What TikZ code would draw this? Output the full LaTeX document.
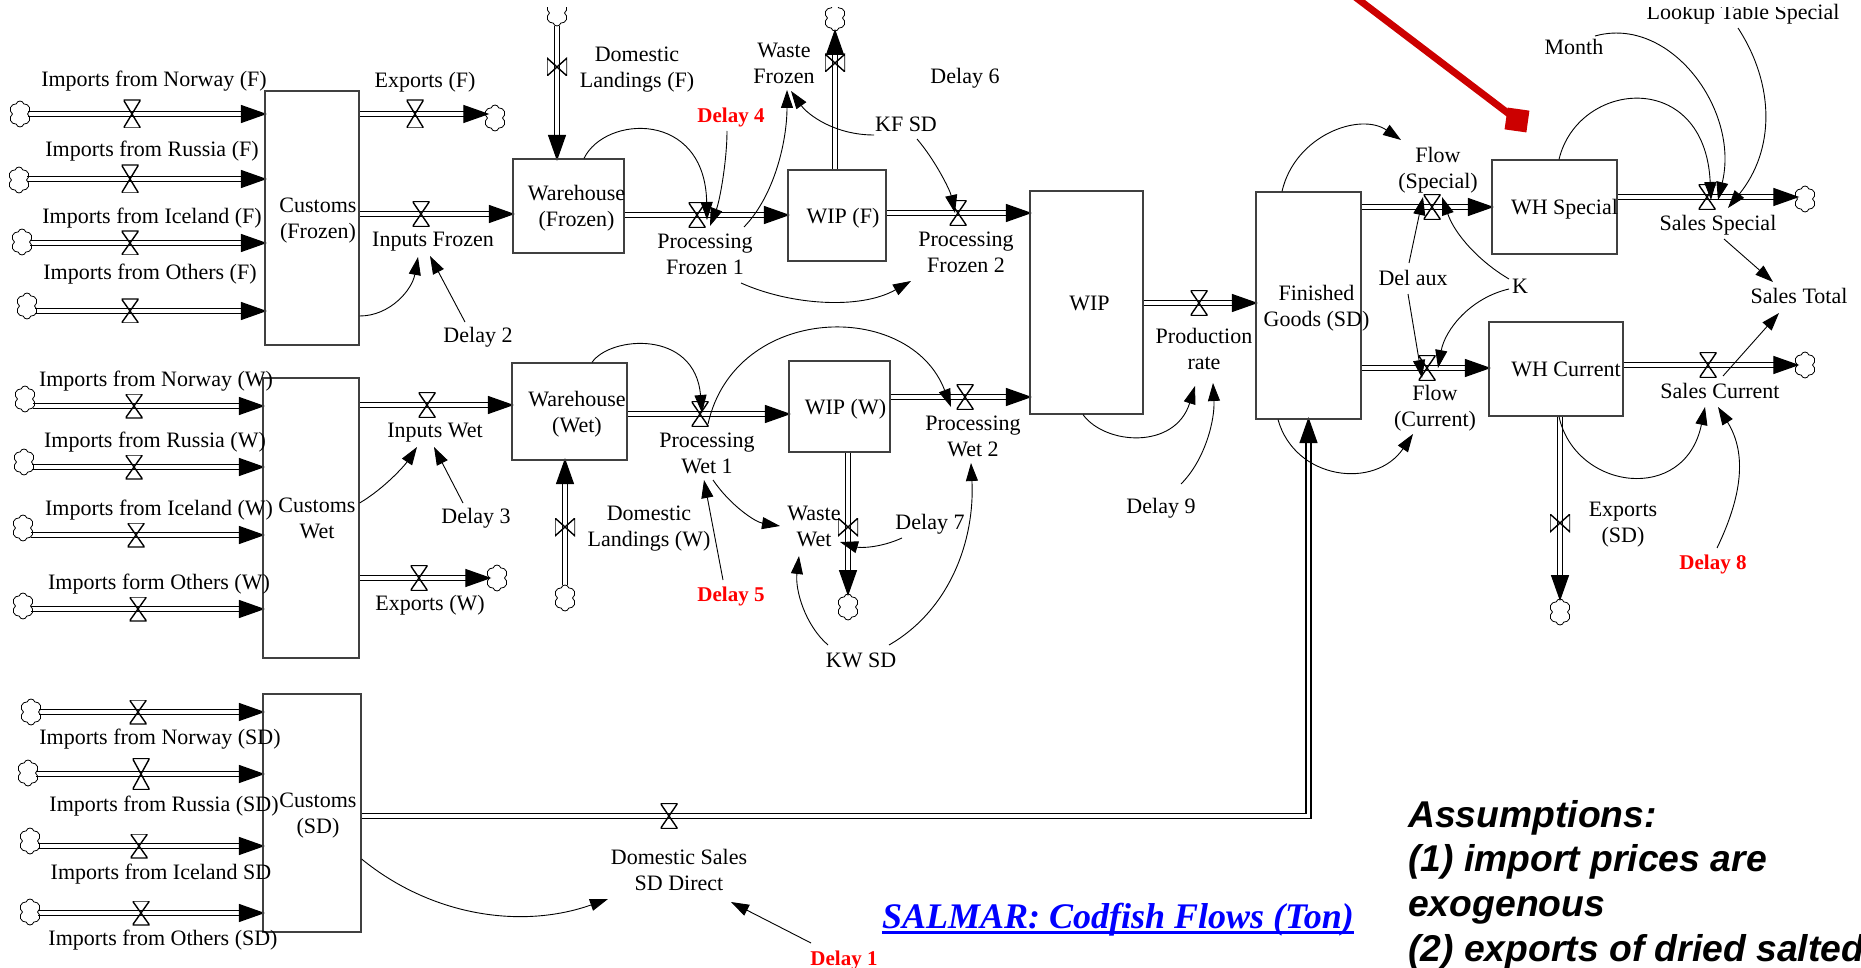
\documentclass[tikz,border=0pt]{standalone}
\usepackage{fontspec}
\setmainfont{Liberation Serif}
\newfontfamily\assumefont{Liberation Sans}
\usetikzlibrary{arrows.meta,shapes.symbols,backgrounds}
\newcommand\boxtext[2]{\hspace*{#1pt}\makebox[0pt]{\raisebox{-2.4pt}[\height][\depth]{\begin{tabular}{@{}c@{}}#2\end{tabular}}}}
\definecolor{edgegray}{HTML}{404040}
\definecolor{darkred}{HTML}{CC0000}
\tikzset{
  lbl/.style={font=\fontsize{22}{26}\selectfont,align=center,inner sep=0pt,yshift=-2.4pt},
  redlbl/.style={font=\fontsize{21}{26}\selectfont\bfseries,text=red,align=center,inner sep=0pt,yshift=-2.4pt},
  stockbox/.style={draw=edgegray,line width=1.2pt,inner sep=0pt,font=\fontsize{22}{26}\selectfont},
  valveh/.style={inner sep=0pt,minimum width=17pt,minimum height=25pt,
    path picture={\draw[line width=1.4pt] (path picture bounding box.north west)--(path picture bounding box.south east)--(path picture bounding box.south west)--(path picture bounding box.north east)--cycle;}},
  valvev/.style={inner sep=0pt,minimum width=20pt,minimum height=18pt,
    path picture={\draw[line width=1.4pt] (path picture bounding box.north west)--(path picture bounding box.south west)--(path picture bounding box.north east)--(path picture bounding box.south east)--cycle;}},
  cloudy/.style={shape=cloud,draw,line width=0.8pt,cloud puffs=6,cloud puff arc=150,aspect=0.8,inner sep=0pt,minimum width=22pt,minimum height=26pt},
  pipe/.style={draw=black,line width=1.3pt,double=white,double distance=3.6pt,shorten >=-2.5pt,-{Triangle[length=26pt,width=18pt]}},
  infl/.style={draw=black,line width=0.9pt,-{Triangle[length=18pt,width=12pt]}}
}
\begin{document}
\begin{tikzpicture}[x=1pt,y=-1pt]
\useasboundingbox (0,0) rectangle (1861,968);
% stocks
\node[stockbox,minimum width=94pt,minimum height=254pt] (CF) at (312,218) {\boxtext{12}{Customs\\(Frozen)}};
\node[stockbox,minimum width=96pt,minimum height=280pt] (CW) at (311,518) {\boxtext{12}{Customs\\Wet}};
\node[stockbox,minimum width=98pt,minimum height=238pt] (CS) at (312,813) {\boxtext{12}{Customs\\(SD)}};
\node[stockbox,minimum width=111pt,minimum height=94pt] (WF) at (568.5,206) {\boxtext{16}{Warehouse\\(Frozen)}};
\node[stockbox,minimum width=115pt,minimum height=97pt] (WW) at (569.5,411.5) {\boxtext{15}{Warehouse\\(Wet)}};
\node[stockbox,minimum width=98pt,minimum height=91pt] (WIPF) at (837,215.5) {\boxtext{12}{WIP (F)}};
\node[stockbox,minimum width=101pt,minimum height=91pt] (WIPW) at (839.5,406.5) {\boxtext{12}{WIP (W)}};
\node[stockbox,minimum width=113pt,minimum height=223pt] (WIP) at (1086.5,302.5) {\boxtext{6}{WIP}};
\node[stockbox,minimum width=105pt,minimum height=227pt] (FG) at (1308.5,305.5) {\boxtext{16}{Finished\\Goods (SD)}};
\node[stockbox,minimum width=125pt,minimum height=94pt] (WHS) at (1554.5,207) {\boxtext{20}{WH Special}};
\node[stockbox,minimum width=134pt,minimum height=94pt] (WHC) at (1556,369) {\boxtext{20}{WH Current}};
% import flows
\foreach \n/\cx/\cy/\vx/\vy/\vh/\tx/\ty/\lab in {
  F1/20/114/132/114/28/154/79/{Imports from Norway (F)},
  F2/19/180/130/179/28/152/149/{Imports from Russia (F)},
  F3/22/242/130/243/24/152/216/{Imports from Iceland (F)},
  F4/27/306/130/311/24/150/272/{Imports from Others (F)},
  W1/25/399/134/406/24/156/379/{Imports from Norway (W)},
  W2/24/462/134/467/24/155/440/{Imports from Russia (W)},
  W3/23/528/136/535/24/159/508/{Imports from Iceland (W)},
  W4/23/606/138/609/24/159/582/{Imports form Others (W)},
  S1/31/712/138/712/24/160/737/{Imports from Norway (SD)},
  S2/28/773/141/774/31/164/804/{Imports from Russia (SD)},
  S3/30/841/139/846/24/161/872/{Imports from Iceland SD},
  S4/30/912/141/913/24/163/938/{Imports from Others (SD)}}{
  \node[cloudy] (c\n) at (\cx,\cy) {};
  \node[valveh,minimum height=\vh pt] (v\n) at (\vx,\vy) {};
  \node[lbl] (t\n) at (\tx,\ty) {\lab};
}
% other flow valves, clouds and labels
\node[valveh,minimum height=28pt] (vEF) at (415,114) {};
\node[cloudy] (cEF) at (495,118) {};
\node[lbl] (tEF) at (425,80) {Exports (F)};
\node[valveh] (vIF) at (421,214) {};
\node[lbl] (tIF) at (433,239) {Inputs Frozen};
\node[valveh] (vIW) at (427,405) {};
\node[lbl] (tIW) at (435,430) {Inputs Wet};
\node[valveh] (vEW) at (419,578) {};
\node[cloudy] (cEW) at (497,578) {};
\node[lbl] (tEW) at (430,603) {Exports (W)};
\node[cloudy] (cDF) at (557,13) {};
\node[valvev] (vDF) at (557,67) {};
\node[lbl] (tDF) at (637,67) {Domestic\\Landings (F)};
\node[valveh] (vPF1) at (697,215) {};
\node[lbl] (tPF1) at (705,252) {Processing\\Frozen 1};
\node[cloudy] (cWF) at (835,18) {};
\node[valvev] (vWF) at (835,63) {};
\node[lbl] (tWF) at (784,61) {Waste\\Frozen};
\node[valveh] (vPF2) at (958,213) {};
\node[lbl] (tPF2) at (966,250) {Processing\\Frozen 2};
\node[valveh] (vPW1) at (700,414) {};
\node[lbl] (tPW1) at (707,451) {Processing\\Wet 1};
\node[valveh] (vPW2) at (965,397) {};
\node[lbl] (tPW2) at (973,433.5) {Processing\\Wet 2};
\node[valvev] (vWW) at (848,527) {};
\node[cloudy] (cWW) at (848,607) {};
\node[lbl] (tWW) at (814,524.5) {Waste\\Wet};
\node[valvev] (vDW) at (565,527) {};
\node[cloudy] (cDW) at (565,598) {};
\node[lbl] (tDW) at (649,526) {Domestic\\Landings (W)};
\node[valveh] (vP) at (1199,303) {};
\node[lbl] (tP) at (1204,347) {Production\\rate};
\node[valveh] (vFS) at (1432,207) {};
\node[lbl] (tFS) at (1438,168) {Flow\\(Special)};
\node[valveh] (vFC) at (1427,368) {};
\node[lbl] (tFC) at (1435,406) {Flow\\(Current)};
\node[valveh] (vSS) at (1707,197) {};
\node[cloudy] (cSS) at (1805,199) {};
\node[lbl] (tSS) at (1718,223) {Sales Special};
\node[valveh] (vSC) at (1708,365) {};
\node[cloudy] (cSC) at (1805,365) {};
\node[lbl] (tSC) at (1720,389) {Sales Current};
\node[valvev] (vXS) at (1560,523) {};
\node[cloudy] (cXS) at (1560,612) {};
\node[lbl] (tXS) at (1623,522) {Exports\\(SD)};
\node[valveh] (vDS) at (669,816) {};
\node[lbl] (tDS) at (679,867.5) {Domestic Sales\\SD Direct};
% auxiliaries
\node[redlbl] (tD1) at (844,958) {Delay 1};
\node[lbl] (tD2) at (478,335) {Delay 2};
\node[lbl] (tD3) at (476,516) {Delay 3};
\node[redlbl] (tD4) at (731,115) {Delay 4};
\node[redlbl] (tD5) at (731,594) {Delay 5};
\node[lbl] (tD6) at (965,76) {Delay 6};
\node[lbl] (tD7) at (930,522) {Delay 7};
\node[redlbl] (tD8) at (1713,562) {Delay 8};
\node[lbl] (tD9) at (1161,506) {Delay 9};
\node[lbl] (tKF) at (906,122) {KF SD};
\node[lbl] (tKW) at (861,658) {KW SD};
\node[lbl] (tDA) at (1413,276) {Del aux};
\node[lbl] (tK) at (1520,284) {K};
\node[lbl] (tST) at (1799,294) {Sales Total};
\node[lbl] (tMonth) at (1574,45) {Month};
\node[lbl] (tLook) at (1743,12) {Lookup Table Special};
% free texts
\node[inner sep=0pt,text=blue,font=\fontsize{36}{40}\selectfont\bfseries\itshape] (title) at (1118,919.5) {SALMAR: Codfish Flows (Ton)};
\draw[draw=blue,line width=3pt] (title.west |- 0,932) -- (title.east |- 0,932);
\node[anchor=base west,inner sep=0pt,font=\assumefont\fontsize{37.3}{45}\selectfont\bfseries\itshape] (as1) at (1408,827) {Assumptions:};
\node[anchor=base west,inner sep=0pt,font=\assumefont\fontsize{37.3}{45}\selectfont\bfseries\itshape] (as2) at (1408,871.5) {(1) import prices are};
\node[anchor=base west,inner sep=0pt,font=\assumefont\fontsize{37.3}{45}\selectfont\bfseries\itshape] (as3) at (1408,916.5) {exogenous};
\node[anchor=base west,inner sep=0pt,font=\assumefont\fontsize{37.3}{45}\selectfont\bfseries\itshape] (as4) at (1408,961) {(2) exports of dried salted};
% pipes
\begin{scope}[on background layer]
\foreach \n in {F1,F2,F3,F4}{\draw[pipe] (c\n.east |- v\n) -- (CF.west |- v\n);}
\foreach \n in {W1,W2,W3,W4}{\draw[pipe] (c\n.east |- v\n) -- (CW.west |- v\n);}
\foreach \n in {S1,S2,S3,S4}{\draw[pipe] (c\n.east |- v\n) -- (CS.west |- v\n);}
\draw[pipe] (CF.east |- vEF) -- (cEF.west |- vEF);
\draw[pipe] (CF.east |- vIF) -- (WF.west |- vIF);
\draw[pipe] (CW.east |- vIW) -- (WW.west |- vIW);
\draw[pipe] (CW.east |- vEW) -- (cEW.west |- vEW);
\draw[pipe] (cDF.south) -- (cDF.south |- WF.north);
\draw[pipe] (WF.east |- vPF1) -- (WIPF.west |- vPF1);
\draw[pipe] (WIPF.north -| cWF) -- (cWF.south);
\draw[pipe] (WIPF.east |- vPF2) -- (WIP.west |- vPF2);
\draw[pipe] (cDW.north) -- (cDW.north |- WW.south);
\draw[pipe] (WW.east |- vPW1) -- (WIPW.west |- vPW1);
\draw[pipe] (WIPW.south -| cWW) -- (cWW.north);
\draw[pipe] (WIPW.east |- vPW2) -- (WIP.west |- vPW2);
\draw[pipe] (WIP.east |- vP) -- (FG.west |- vP);
\draw[pipe] (FG.east |- vFS) -- (WHS.west |- vFS);
\draw[pipe] (FG.east |- vFC) -- (WHC.west |- vFC);
\draw[pipe] (WHS.east |- vSS) -- (cSS.west |- vSS);
\draw[pipe] (WHC.east |- vSC) -- (cSC.west |- vSC);
\draw[pipe] (WHC.south -| cXS) -- (cXS.north);
\draw[pipe] (CS.east |- vDS) -| (FG.south);
\end{scope}
% influences
\draw[infl] (CF.east |- 0,316) .. controls (390,316) and (412,290) .. ([shift={(-15,15.6)}]tIF.center);
\draw[infl] ([shift={(-13,-15.4)}]tD2.center) -- ([shift={(-3,14.6)}]tIF.center);
\draw[infl] (CW.east |- 0,503) .. controls (385,488) and (405,465) .. ([shift={(-18,14.6)}]tIW.center);
\draw[infl] ([shift={(-13,-15.4)}]tD3.center) -- ([shift={(-1,14.6)}]tIW.center);
\draw[infl] ([shift={(15.5,0)}]WF.north) .. controls (605,115) and (705,110) .. ([shift={(10,5)}]vPF1.center);
\draw[infl] ([shift={(-4,13.6)}]tD4.center) .. controls (727,160) and (720,200) .. ([shift={(13,11)}]vPF1.center);
\draw[infl] ([shift={(39,-27.4)}]tPF1.center) .. controls (775,195) and (787,140) .. ([shift={(3,26.6)}]tWF.center);
\draw[infl] ([shift={(-32,10.6)}]tKF.center) .. controls (835,135) and (808,115) .. ([shift={(7,27.6)}]tWF.center);
\draw[infl] ([shift={(11,14.6)}]tKF.center) .. controls (935,160) and (950,190) .. ([shift={(-3,0)}]vPF2.center);
\draw[infl] ([shift={(36,28.6)}]tPF1.center) .. controls (790,305) and (860,310) .. ([shift={(-55,28.6)}]tPF2.center);
\draw[infl] ([shift={(22.5,0)}]WW.north) .. controls (610,336) and (695,329) .. ([shift={(2,-1)}]vPW1.center);
\draw[infl] ([shift={(8,10)}]vPW1.center) .. controls (735,303) and (910,299) .. ([shift={(-14,10)}]vPW2.center);
\draw[infl] ([shift={(6,26.6)}]tPW1.center) .. controls (730,505) and (755,522) .. ([shift={(-34,-0.9)}]tWW.center);
\draw[infl] ([shift={(-8,-16.4)}]tD5.center) -- ([shift={(-3,26.6)}]tPW1.center);
\draw[infl] ([shift={(-28,13.6)}]tD7.center) .. controls (880,548) and (860,548) .. ([shift={(26,15.1)}]tWW.center);
\draw[infl] ([shift={(-33,-15.4)}]tKW.center) .. controls (805,625) and (795,590) .. ([shift={(-15,29.1)}]tWW.center);
\draw[infl] ([shift={(28,-15.4)}]tKW.center) .. controls (950,610) and (975,540) .. ([shift={(-2,27.1)}]tPW2.center);
\draw[infl] ([shift={(-3.5,0)}]WIP.south) .. controls (1105,445) and (1175,450) .. ([shift={(-9,36.6)}]tP.center);
\draw[infl] ([shift={(20,-24.4)}]tD9.center) .. controls (1205,460) and (1215,420) .. ([shift={(9,33.6)}]tP.center);
\draw[infl] ([shift={(-26.5,0)}]FG.north) .. controls (1295,135) and (1360,112) .. ([shift={(-37,-30.4)}]tFS.center);
\draw[infl] ([shift={(-30.5,0)}]FG.south) .. controls (1295,480) and (1375,490) .. ([shift={(-22,25.6)}]tFC.center);
\draw[infl] ([shift={(-4,-15.4)}]tDA.center) -- ([shift={(-9,-10)}]vFS.center);
\draw[infl] ([shift={(-5,15.6)}]tDA.center) -- ([shift={(-5,10)}]vFC.center);
\draw[infl] ([shift={(-11,-7.4)}]tK.center) .. controls (1480,262) and (1455,235) .. ([shift={(10,-10)}]vFS.center);
\draw[infl] ([shift={(-11,2.6)}]tK.center) .. controls (1470,298) and (1445,330) .. ([shift={(11,0)}]vFC.center);
\draw[infl] ([shift={(4.5,0)}]WHS.north) .. controls (1578,80) and (1705,68) .. ([shift={(4,3)}]vSS.center);
\draw[infl] ([shift={(21,-11.4)}]tMonth.center) .. controls (1670,15) and (1740,110) .. ([shift={(11,3)}]vSS.center);
\draw[infl] ([shift={(-5,13.6)}]tLook.center) .. controls (1775,85) and (1775,150) .. ([shift={(21,11)}]vSS.center);
\draw[infl] ([shift={(6,13.6)}]tSS.center) -- ([shift={(-26,-14.4)}]tST.center);
\draw[infl] ([shift={(3,-15.4)}]tSC.center) -- ([shift={(-20,16.6)}]tST.center);
\draw[infl] ([shift={(3,0)}]WHC.south) .. controls (1575,490) and (1685,505) .. ([shift={(-15,15.6)}]tSC.center);
\draw[infl] ([shift={(4,-16.4)}]tD8.center) .. controls (1745,490) and (1745,450) .. ([shift={(-2,15.6)}]tSC.center);
\draw[infl] (CS.east |- 0,859) .. controls (430,915) and (520,930) .. ([shift={(-71,29.1)}]tDS.center);
\draw[infl] ([shift={(-33,-17.4)}]tD1.center) -- ([shift={(52,32.1)}]tDS.center);
% top edge of the picture is cut off
\fill[white] (530,-1) rectangle (1800,7.5);
% red pointer
\coordinate (redstart) at (1346,-10);
\node[fill=darkred,minimum size=22pt,inner sep=0pt,rotate=-8] (redsq) at (1517,120) {};
\draw[draw=darkred,line width=7pt] (redstart) -- (redsq.center);
\end{tikzpicture}
\end{document}
